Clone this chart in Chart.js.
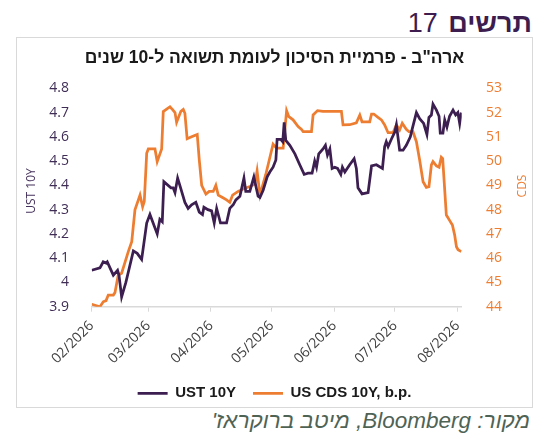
<!DOCTYPE html>
<html>
<head>
<meta charset="utf-8">
<script src="https://cdn.jsdelivr.net/npm/chart.js@4.4.1/dist/chart.umd.min.js"></script>
<style>
  body { margin: 0; width: 546px; height: 446px; background: #fff; position: relative; overflow: hidden; }
  #head { position: absolute; right: 14px; top: 10px; font: 27px/27px "Liberation Sans", Arial, sans-serif; color: #3d1c4f; direction: rtl; white-space: nowrap; }
  #head b { font-weight: bold; margin-left: 3px; }
  #box { position: absolute; left: 16px; top: 37px; width: 517px; height: 371px; border: 1px solid #d9d9d9; box-sizing: border-box; }
  #box canvas { position: absolute; left: 0; top: 0; }
  #src { position: absolute; right: 16px; top: 410px; font: italic 22.5px/22px "Liberation Sans", Arial, sans-serif; color: #4f6355; direction: rtl; white-space: nowrap; }
</style>
</head>
<body>
<div id="head"><b>תרשים</b> 17</div>
<div id="box"><canvas id="chart" width="515" height="369"></canvas></div>
<div id="src">מקור: Bloomberg, מיטב ברוקראז'</div>
<script>
/* x values are days counted from 1 Feb 2026 */

const monthDays = [0, 28, 59, 89, 120, 150, 181];
const monthLabels = ["02/2026", "03/2026", "04/2026", "05/2026", "06/2026", "07/2026", "08/2026"];

const ustTicks = [3.9, 4, 4.1, 4.2, 4.3, 4.4, 4.5, 4.6, 4.7, 4.8];
const cdsTicks = [44, 45, 46, 47, 48, 49, 50, 51, 52, 53];

const ustDays = [0, 4.1, 5.7, 7.1, 7.7, 10.7, 12.8, 13.5, 14.8, 16.9, 20.6, 22.5, 24.7, 27.2, 28.8,
  32.4, 33.7, 34.9, 35.7, 39.2, 40.3, 41.2, 42.5, 43.6, 46.1, 47.7, 49.4, 51.5, 53.2, 54.8, 55.5,
  57.5, 59.3, 60.6, 61.8, 63.7, 66.7, 68.3, 70.0, 71.3, 73.3, 75.3, 76.2, 78.2, 80.2, 82.3, 83.2,
  84.8, 86.8, 88.1, 89.7, 91.1, 91.7, 93.5, 94.5, 95.2, 96.0, 98.0, 100.5, 102.9, 105.1, 107.0,
  109.0, 110.3, 111.2, 112.3, 114.4, 115.6, 116.6, 117.8, 118.9, 120.2, 121.6, 123.2, 124.0, 125.2,
  127.6, 129.8, 130.9, 131.7, 133.7, 136.7, 138.4, 140.8, 143.8, 144.9, 145.7, 146.6, 148.2, 149.9,
  150.7, 152.3, 154.0, 155.6, 157.6, 158.6, 160.6, 162.2, 164.2, 165.8, 166.8, 168.0, 168.8, 170.5,
  171.8, 172.4, 173.7, 174.6, 175.7, 177.0, 178.7, 180.0, 181.1, 182.0, 182.8];
const ustValues = [4.05, 4.06, 4.085, 4.08, 4.085, 4.03, 4.05, 4.03, 3.94, 4.00, 4.13, 4.12, 4.095, 4.245, 4.28,
  4.20, 4.26, 4.25, 4.415, 4.39, 4.39, 4.37, 4.43, 4.40, 4.33, 4.305, 4.32, 4.33, 4.29, 4.28, 4.31,
  4.30, 4.295, 4.245, 4.305, 4.245, 4.245, 4.305, 4.32, 4.34, 4.355, 4.43, 4.375, 4.375, 4.435, 4.355, 4.35,
  4.38, 4.435, 4.455, 4.475, 4.505, 4.59, 4.59, 4.58, 4.66, 4.585, 4.565, 4.53, 4.485, 4.445, 4.45,
  4.45, 4.50, 4.475, 4.53, 4.55, 4.565, 4.525, 4.55, 4.47, 4.475, 4.47, 4.445, 4.475, 4.455,
  4.485, 4.51, 4.47, 4.39, 4.365, 4.37, 4.48, 4.485, 4.47, 4.56, 4.58, 4.56, 4.59, 4.62,
  4.65, 4.545, 4.545, 4.565, 4.60, 4.635, 4.70, 4.675, 4.655, 4.61, 4.68, 4.69, 4.735, 4.71,
  4.685, 4.615, 4.615, 4.67, 4.64, 4.685, 4.71, 4.69, 4.70, 4.655, 4.70];

const cdsDays = [0, 4.1, 5.7, 7.1, 8.2, 10.7, 11.5, 13.1, 14.8, 18.1, 19.8, 21.4, 23.9, 25.2, 26.0,
  27.2, 28.0, 31.3, 32.4, 34.6, 35.4, 38.7, 40.0, 41.2, 42.0, 44.1, 45.3, 46.1, 47.2, 49.4, 52.2,
  53.2, 54.4, 56.5, 58.1, 60.1, 61.4, 62.6, 64.7, 66.7, 68.3, 69.7, 72.4, 74.9, 78.2, 80.7, 81.8,
  83.2, 86.1, 89.7, 91.4, 94.7, 96.4, 97.5, 99.6, 102.1, 103.8, 104.6, 108.7, 109.5, 111.7, 114.4,
  123.5, 124.3, 127.6, 130.9, 132.6, 133.7, 137.5, 138.4, 139.5, 141.6, 143.3, 144.9, 146.6, 149.0,
  150.7, 152.3, 153.6, 155.6, 156.9, 158.9, 160.6, 162.2, 163.9, 165.5, 166.8, 168.0, 168.8, 170.5,
  171.8, 172.9, 173.6, 175.4, 176.7, 178.4, 179.5, 180.4, 181.2, 182.8];
const cdsValues = [44.1, 44.0, 44.2, 44.25, 44.48, 44.48, 44.58, 45.3, 45.38, 46.27, 46.68, 47.99, 48.6, 48.12, 48.33,
  50.32, 50.5, 50.5, 49.98, 50.5, 52.04, 52.24, 52.12, 52.0, 51.6, 52.05, 52.13, 51.97, 50.92, 51.0, 51.1,
  50.05, 49.0, 48.64, 48.75, 48.75, 49.0, 48.6, 48.5, 48.4, 48.3, 48.6, 48.75, 48.85, 48.95, 49.05, 49.6,
  48.6, 49.45, 50.7, 50.53, 50.53, 52.08, 51.83, 51.7, 51.42, 51.3, 51.21, 51.21, 51.9, 52.08, 52.05,
  52.05, 51.49, 51.5, 51.58, 51.9, 51.62, 51.62, 51.94, 51.94, 51.8, 51.7, 51.49, 51.17, 51.17,
  51.49, 51.28, 51.56, 51.31, 51.21, 51.21, 50.8, 50.05, 49.15, 48.92, 48.95, 49.84, 49.98, 49.8,
  49.75, 50.16, 50.1, 47.78, 47.6, 47.37, 46.96, 46.47, 46.35, 46.27];

const PURPLE = "#3c1e50";
const ORANGE = "#ed7d31";

// axis titles: both read bottom-to-top like the original
const axisTitles = {
  id: "axisTitles",
  afterDraw(chart) {
    const ctx = chart.ctx;
    ctx.save();
    ctx.font = "12px 'Open Sans'";
    ctx.textAlign = "center";
    ctx.textBaseline = "middle";
    [["UST 10Y", 14.7, 153, "#45325c"], ["CDS", 505.3, 148, ORANGE]].forEach(t => {
      ctx.save();
      ctx.translate(t[1], t[2]);
      ctx.rotate(-Math.PI / 2);
      ctx.fillStyle = t[3];
      ctx.fillText(t[0], 0, 0);
      ctx.restore();
    });
    ctx.restore();
  }
};

new Chart(document.getElementById("chart"), {
  type: "line",
  data: {
    datasets: [
      {
        label: "UST 10Y",
        data: ustDays.map((d, i) => ({x: d, y: ustValues[i]})),
        borderColor: PURPLE,
        backgroundColor: PURPLE,
        borderWidth: 2.75,
        pointRadius: 0,
        yAxisID: "y"
      },
      {
        label: "US CDS 10Y, b.p.",
        data: cdsDays.map((d, i) => ({x: d, y: cdsValues[i]})),
        borderColor: ORANGE,
        backgroundColor: ORANGE,
        borderWidth: 2.75,
        pointRadius: 0,
        yAxisID: "y1"
      }
    ]
  },
  options: {
    responsive: false,
    animation: false,
    layout: { padding: 0 },
    plugins: {
      title: {
        display: true,
        text: 'ארה"ב - פרמיית הסיכון לעומת תשואה ל-10 שנים',
        color: "#1a1a1a",
        font: { family: "'Liberation Sans', Arial", size: 17.5, weight: "bold" },
        padding: { top: 10, bottom: 19.3 }
      },
      legend: {
        position: "bottom",
        maxHeight: 38.2,
        labels: {
          usePointStyle: true,
          pointStyle: "line",
          pointStyleWidth: 30,
          padding: 17,
          color: "#1a1a1a",
          font: { family: "'Liberation Sans', Arial", size: 15, weight: "bold" }
        }
      },
      tooltip: { enabled: false }
    },
    scales: {
      x: {
        type: "linear",
        min: 0,
        max: 183,
        afterBuildTicks: s => { s.ticks = monthDays.map(v => ({value: v})); },
        afterFit: s => { s.height = 62.1; },
        grid: { drawOnChartArea: false, color: "#d9d9d9", tickLength: 5 },
        border: { color: "#d9d9d9", width: 1.5 },
        ticks: {
          autoSkip: false,
          minRotation: 45,
          maxRotation: 45,
          padding: 6,
          color: "#404040",
          font: { family: "'Open Sans'", size: 14 },
          callback: (v, i) => monthLabels[i]
        }
      },
      y: {
        position: "left",
        min: 3.9,
        max: 4.8,
        afterBuildTicks: s => { s.ticks = ustTicks.map(v => ({value: v})); },
        afterFit: s => { s.width = 74.7; },
        grid: { display: false },
        border: { display: false },
        ticks: {
          padding: 14.7,
          color: "#3f2d55",
          font: { family: "'Open Sans'", size: 14 },
          callback: v => String(v)
        }
      },
      y1: {
        position: "right",
        min: 44,
        max: 53,
        afterBuildTicks: s => { s.ticks = cdsTicks.map(v => ({value: v})); },
        afterFit: s => { s.width = 70.3; },
        grid: { display: false },
        border: { display: false },
        ticks: {
          padding: 16.3,
          color: ORANGE,
          font: { family: "'Open Sans'", size: 14 },
          callback: v => String(v)
        }
      }
    }
  },
  plugins: [axisTitles]
});
</script>
</body>
</html>
